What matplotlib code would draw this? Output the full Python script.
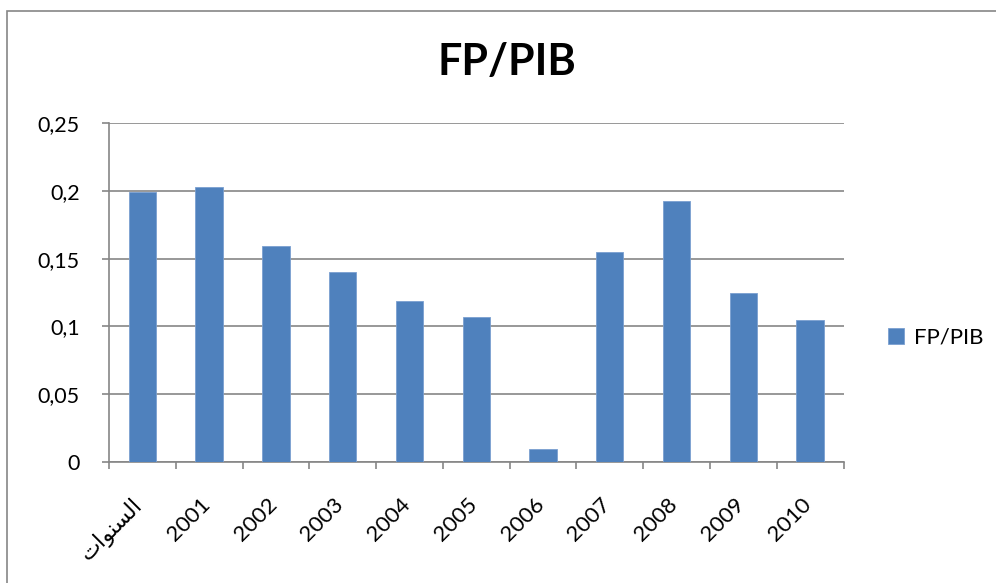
import matplotlib
matplotlib.use("Agg")
import matplotlib.pyplot as plt
import matplotlib.transforms as mtransforms
from matplotlib.patches import Rectangle
import numpy as np

plt.rcParams['font.family'] = ['Lato', 'DejaVu Sans']

# Arabic label written in shaped presentation forms, visual order
YEARS_AR = "\uFE95\uFE8D\uFEEE\uFEE8\uFEB4\uFEDF\uFE8D"  # السنوات
categories = [YEARS_AR, "2001", "2002", "2003", "2004", "2005",
              "2006", "2007", "2008", "2009", "2010"]
values = [0.1993, 0.2027, 0.1593, 0.1399, 0.1187, 0.1071,
          0.0094, 0.1547, 0.1925, 0.1243, 0.1051]
yticks = [0, 0.05, 0.1, 0.15, 0.2, 0.25]
ylabels = ["0", "0,05", "0,1", "0,15", "0,2", "0,25"]

BAR = "#4F81BD"
GRAY = "#868686"

fig = plt.figure(figsize=(9.96, 5.83), dpi=100)
ax = fig.add_axes([0.1094, 0.2075, 0.8375 - 0.1094 + 0.0094, 0.789 - 0.2075])

# chart frame (cropped on right and bottom)
fig.patches.append(Rectangle((7 / 996, -0.1), 1.2, 1 - 11 / 583 + 0.1,
                             transform=fig.transFigure, fill=False,
                             edgecolor=GRAY, lw=1.2))

x = np.arange(len(categories))
ax.bar(x, values, width=0.41, color=BAR, edgecolor="#7A9FD0", lw=0.6,
       label="FP/PIB", zorder=3)

ax.set_xlim(-0.5, len(categories) - 0.5)
ax.set_ylim(0, 0.25)
ax.set_yticks(yticks)
ax.set_yticklabels(ylabels, fontsize=15.5)
ax.yaxis.grid(True, color=GRAY, lw=1.2, zorder=0)
ax.set_axisbelow(True)

ax.set_xticks(x)
ax.set_xticklabels(categories, rotation=45, ha="right", fontsize=16)
ax.tick_params(axis="x", which="major", length=0, pad=23)
shift = mtransforms.ScaledTranslation(5 / 100, 0, fig.dpi_scale_trans)
for lab in ax.get_xticklabels():
    lab.set_transform(lab.get_transform() + shift)
ax.set_xticks(np.arange(len(categories) + 1) - 0.5, minor=True)
ax.tick_params(axis="x", which="minor", length=5, width=1.2, color=GRAY)
ax.tick_params(axis="y", length=5, width=1.2, color=GRAY, pad=16)

for s in ["top", "right"]:
    ax.spines[s].set_visible(False)
for s in ["left", "bottom"]:
    ax.spines[s].set_color(GRAY)
    ax.spines[s].set_linewidth(1.2)

fig.text(507 / 996, 1 - 62 / 583, "FP/PIB", ha="center", va="center",
         fontsize=31, fontweight="bold")

ax.legend(loc="center left", bbox_to_anchor=(868 / 996, 1 - 338 / 583),
          bbox_transform=fig.transFigure, frameon=False, fontsize=16,
          handlelength=0.7, handleheight=0.7, handletextpad=0.45)

fig.savefig("out.png", dpi=100)
